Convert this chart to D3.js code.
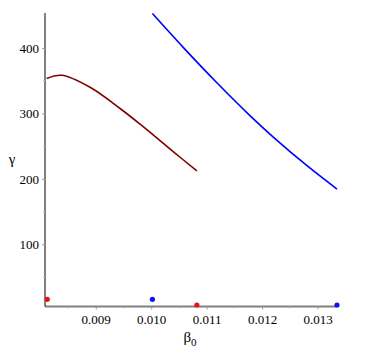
<!DOCTYPE html>
<html>
<head>
<meta charset="utf-8">
<script src="https://cdn.jsdelivr.net/npm/d3@7"></script>
<style>
  html, body { margin: 0; padding: 0; background: #fff; }
</style>
</head>
<body>
<div id="chart"></div>
<script>
// ─── data ───
var redBeta   = [0.008115, 0.008386, 0.008897, 0.009439, 0.009800, 0.010401, 0.010823];
var redGamma  = [353.3, 358.3, 340.0, 307.5, 283.5, 241.3, 212.3];
var blueBeta  = [0.010022, 0.010581, 0.011184, 0.011785, 0.012206, 0.012809, 0.013350];
var blueGamma = [452.5, 400.5, 346.8, 296.3, 263.5, 220.1, 184.4];
var dotBeta   = [0.008126, 0.010022, 0.010823, 0.013350];
var dotGamma  = [16, 16, 7.3, 7.3];
var dotColor  = ['#ee1111', '#1111ee', '#ee1111', '#1111ee'];
var xTicks    = [0.009, 0.010, 0.011, 0.012, 0.013];
var yTicks    = [100, 200, 300, 400];

var W = 379, H = 357;
var x = d3.scaleLinear().domain([0.008085, 0.01335]).range([45, 337]);
var y = d3.scaleLinear().domain([5, 453.4]).range([306.5, 13]);

var svg = d3.select('#chart').append('svg').attr('width', W).attr('height', H);

var xMinor = d3.range(0.0085, 0.0134, 0.001);
var yMinor = d3.range(50, 451, 100);
var serif = '"Liberation Serif", "Times New Roman", serif';

// x axis
var xAxis = d3.axisBottom(x).tickValues(xTicks).tickFormat(d3.format('.3f')).tickSize(3).tickPadding(5);
var gx = svg.append('g').attr('transform', 'translate(0,' + y.range()[0] + ')').call(xAxis)
  .attr('font-family', serif).attr('font-size', 13);
gx.select('.domain').attr('stroke', '#808080').attr('stroke-width', 2).attr('d', 'M' + x.range()[0] + ',0H' + x.range()[1]);
gx.selectAll('.tick line').attr('stroke', '#9a9a9a');
gx.selectAll('.tick text').attr('fill', '#000');
svg.append('g').selectAll('line').data(xMinor).join('line')
  .attr('x1', function(d) { return x(d); }).attr('x2', function(d) { return x(d); })
  .attr('y1', y.range()[0]).attr('y2', y.range()[0] + 2).attr('stroke', '#b0b0b0');

// y axis
var yAxis = d3.axisLeft(y).tickValues(yTicks).tickSize(3).tickPadding(3);
var gy = svg.append('g').attr('transform', 'translate(' + x.range()[0] + ',0)').call(yAxis)
  .attr('font-family', serif).attr('font-size', 13);
gy.select('.domain').attr('stroke', '#000').attr('stroke-width', 1).attr('d', 'M0,' + y.range()[0] + 'V' + y.range()[1]);
gy.selectAll('.tick line').attr('stroke', '#9a9a9a');
gy.selectAll('.tick text').attr('fill', '#000');
svg.append('g').selectAll('line').data(yMinor).join('line')
  .attr('x1', x.range()[0] - 2).attr('x2', x.range()[0])
  .attr('y1', function(d) { return y(d); }).attr('y2', function(d) { return y(d); }).attr('stroke', '#c0c0c0');

// curves
var line = d3.line().x(function(d) { return x(d[0]); }).y(function(d) { return y(d[1]); }).curve(d3.curveCatmullRom.alpha(0.5));
svg.append('path').datum(d3.zip(redBeta, redGamma)).attr('d', line)
  .attr('fill', 'none').attr('stroke', '#800000').attr('stroke-width', 1.6);
svg.append('path').datum(d3.zip(blueBeta, blueGamma)).attr('d', line)
  .attr('fill', 'none').attr('stroke', '#0000ff').attr('stroke-width', 1.6);

// dots
svg.append('g').selectAll('circle').data(d3.range(dotBeta.length)).join('circle')
  .attr('cx', function(i) { return x(dotBeta[i]); }).attr('cy', function(i) { return y(dotGamma[i]); })
  .attr('r', 2.6).attr('fill', function(i) { return dotColor[i]; });

// axis titles
var xt = svg.append('text').attr('x', 190).attr('y', 342).attr('text-anchor', 'middle')
  .attr('font-family', serif).attr('font-size', 15).attr('fill', '#000');
xt.append('tspan').text('β');
xt.append('tspan').attr('dy', 4).attr('font-size', 11).text('0');
svg.append('text').attr('x', 12).attr('y', 164).attr('text-anchor', 'middle')
  .attr('font-family', serif).attr('font-size', 15).attr('fill', '#000').text('γ');
</script>
</body>
</html>
